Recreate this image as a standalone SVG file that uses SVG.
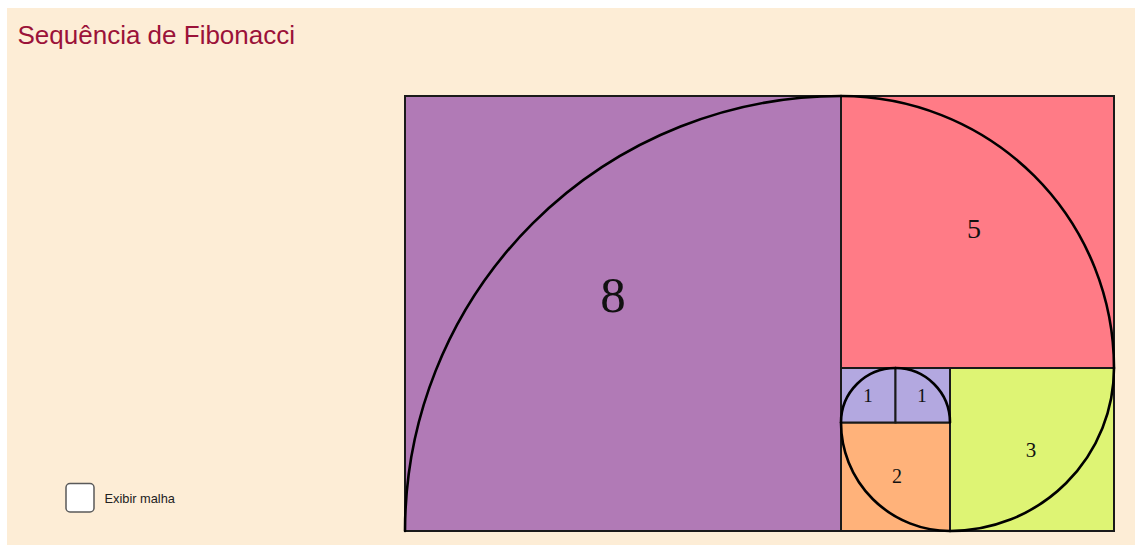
<svg xmlns="http://www.w3.org/2000/svg" width="1135" height="545" viewBox="0 0 1135 545">
<style>
.sq{stroke:#1a1a1a;stroke-width:2;stroke-linejoin:miter}
.lbl{font-family:"Liberation Serif","DejaVu Serif",serif;fill:#111;text-anchor:middle}
.arc{fill:none;stroke:#000;stroke-width:2.6;stroke-linecap:round}
</style>
<rect x="0" y="0" width="1135" height="545" fill="#ffffff"/>
<rect x="7" y="8" width="1128" height="537" fill="#fdedd6"/>
<text x="17.5" y="44" font-family="'Liberation Sans',Arial,sans-serif" font-size="26" fill="#9b1239">Sequência de Fibonacci</text>
<g id="sq8"><rect class="sq" x="405" y="96" width="436" height="435" fill="#b17ab6"/><text class="lbl" x="613" y="312" font-size="51">8</text></g>
<g id="sq5"><rect class="sq" x="841" y="96" width="273" height="272" fill="#ff7b86"/><text class="lbl" x="974" y="238" font-size="28">5</text></g>
<g id="sq3"><rect class="sq" x="950" y="368" width="164" height="163" fill="#def474"/><text class="lbl" x="1031" y="457" font-size="21">3</text></g>
<g id="sq2"><rect class="sq" x="841" y="422.5" width="109" height="108.5" fill="#ffb27a"/><text class="lbl" x="897" y="483" font-size="20">2</text></g>
<g id="sq1a"><rect class="sq" x="841" y="368" width="54.5" height="54.5" fill="#b3a8e0"/><text class="lbl" x="868" y="402" font-size="19">1</text></g>
<g id="sq1b"><rect class="sq" x="895.5" y="368" width="54.5" height="54.5" fill="#b3a8e0"/><text class="lbl" x="922" y="402" font-size="19">1</text></g>
<g id="spiral">
<path class="arc" d="M405,531 A436,435 0 0 1 841,96"/>
<path class="arc" d="M841,96 A273,272 0 0 1 1114,368"/>
<path class="arc" d="M1114,368 A164,163 0 0 1 950,531"/>
<path class="arc" d="M950,531 A109,108.5 0 0 1 841,422.5"/>
<path class="arc" d="M841,422.5 A54.5,54.5 0 0 1 895.5,368"/>
<path class="arc" d="M895.5,368 A54.5,54.5 0 0 1 950,422.5"/>
</g>
<g id="checkbox">
<rect x="66" y="483.5" width="28" height="28.5" rx="4" fill="#ffffff" stroke="#5a5a5a" stroke-width="1.5"/>
<text x="104.5" y="502.5" font-family="'Liberation Sans',Arial,sans-serif" font-size="12.8" fill="#222">Exibir malha</text>
</g>
</svg>
